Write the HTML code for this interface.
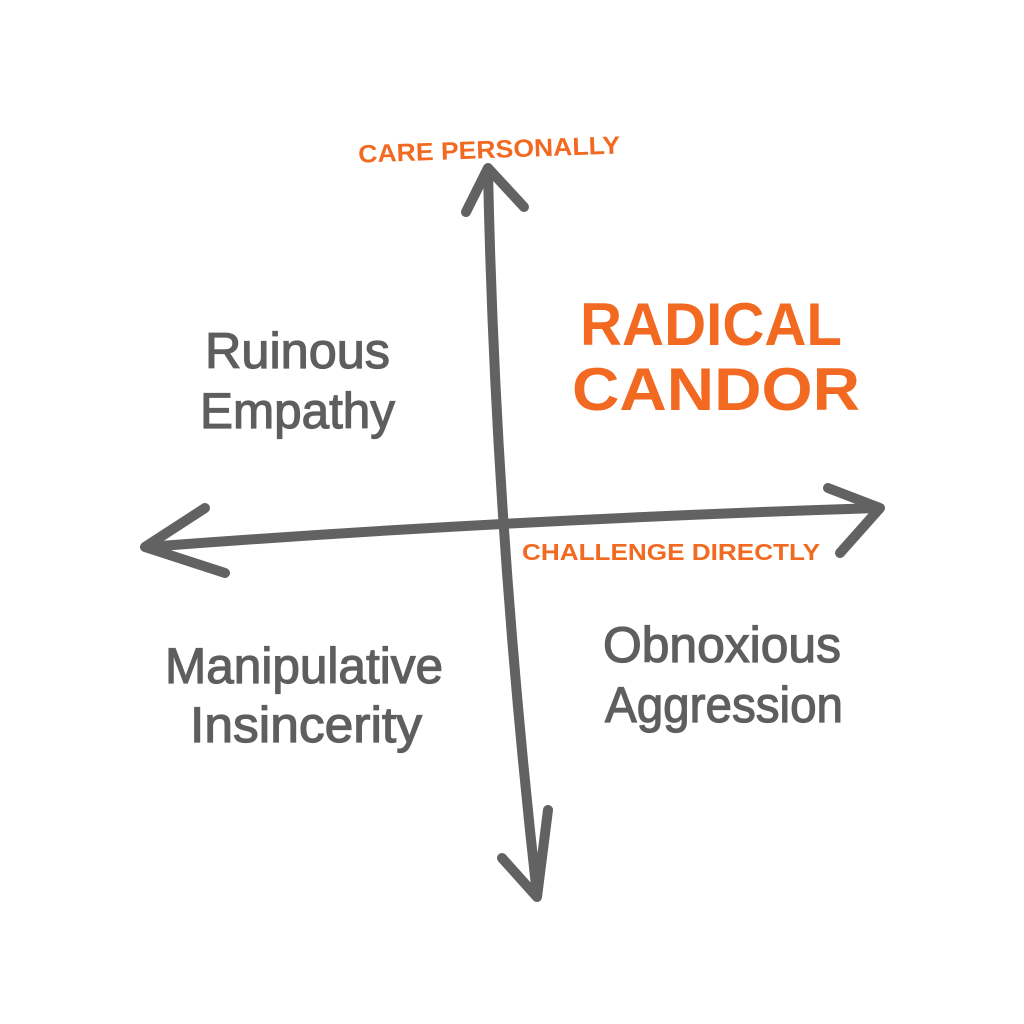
<!DOCTYPE html>
<html><head><meta charset="utf-8"><style>
html,body{margin:0;padding:0;background:#fff;}
svg{display:block}
text{font-family:"Liberation Sans",sans-serif;}
</style></head><body>
<svg width="1024" height="1024" viewBox="0 0 1024 1024" xmlns="http://www.w3.org/2000/svg">
<rect width="1024" height="1024" fill="#fff"/>
<g stroke="#626262" stroke-width="10" stroke-linecap="round" stroke-linejoin="round" fill="none">
  <path d="M488 170 Q495 520 537 895"/>
  <path d="M466 212 L488 168 L524 207"/>
  <path d="M502 858 L537 897 L548 810"/>
  <path d="M147 547 Q500 520 878 508"/>
  <path d="M205 508 L145 547 L225 573"/>
  <path d="M828 488 L880 508 L840 553"/>
</g>
<g fill="#f26a21" font-weight="bold">
  <text x="358" y="158" font-size="25" textLength="262" lengthAdjust="spacingAndGlyphs" transform="rotate(-2 490 145)">CARE PERSONALLY</text>
  <text x="522" y="560" font-size="23" textLength="298" lengthAdjust="spacingAndGlyphs">CHALLENGE DIRECTLY</text>
  <text x="580" y="345" font-size="60" textLength="262" lengthAdjust="spacingAndGlyphs">RADICAL</text>
  <text x="572" y="410" font-size="60" textLength="288" lengthAdjust="spacingAndGlyphs">CANDOR</text>
</g>
<g fill="#5e5e5e" stroke="#5e5e5e" stroke-width="1.2">
  <text x="205" y="368" font-size="50" textLength="185" lengthAdjust="spacingAndGlyphs">Ruinous</text>
  <text x="200" y="428" font-size="50" textLength="195" lengthAdjust="spacingAndGlyphs">Empathy</text>
  <text x="165" y="683" font-size="50" textLength="278" lengthAdjust="spacingAndGlyphs">Manipulative</text>
  <text x="190" y="742" font-size="50" textLength="232" lengthAdjust="spacingAndGlyphs">Insincerity</text>
  <text x="603" y="662" font-size="50" textLength="238" lengthAdjust="spacingAndGlyphs">Obnoxious</text>
  <text x="605" y="722" font-size="50" textLength="238" lengthAdjust="spacingAndGlyphs">Aggression</text>
</g>
</svg>
</body></html>
